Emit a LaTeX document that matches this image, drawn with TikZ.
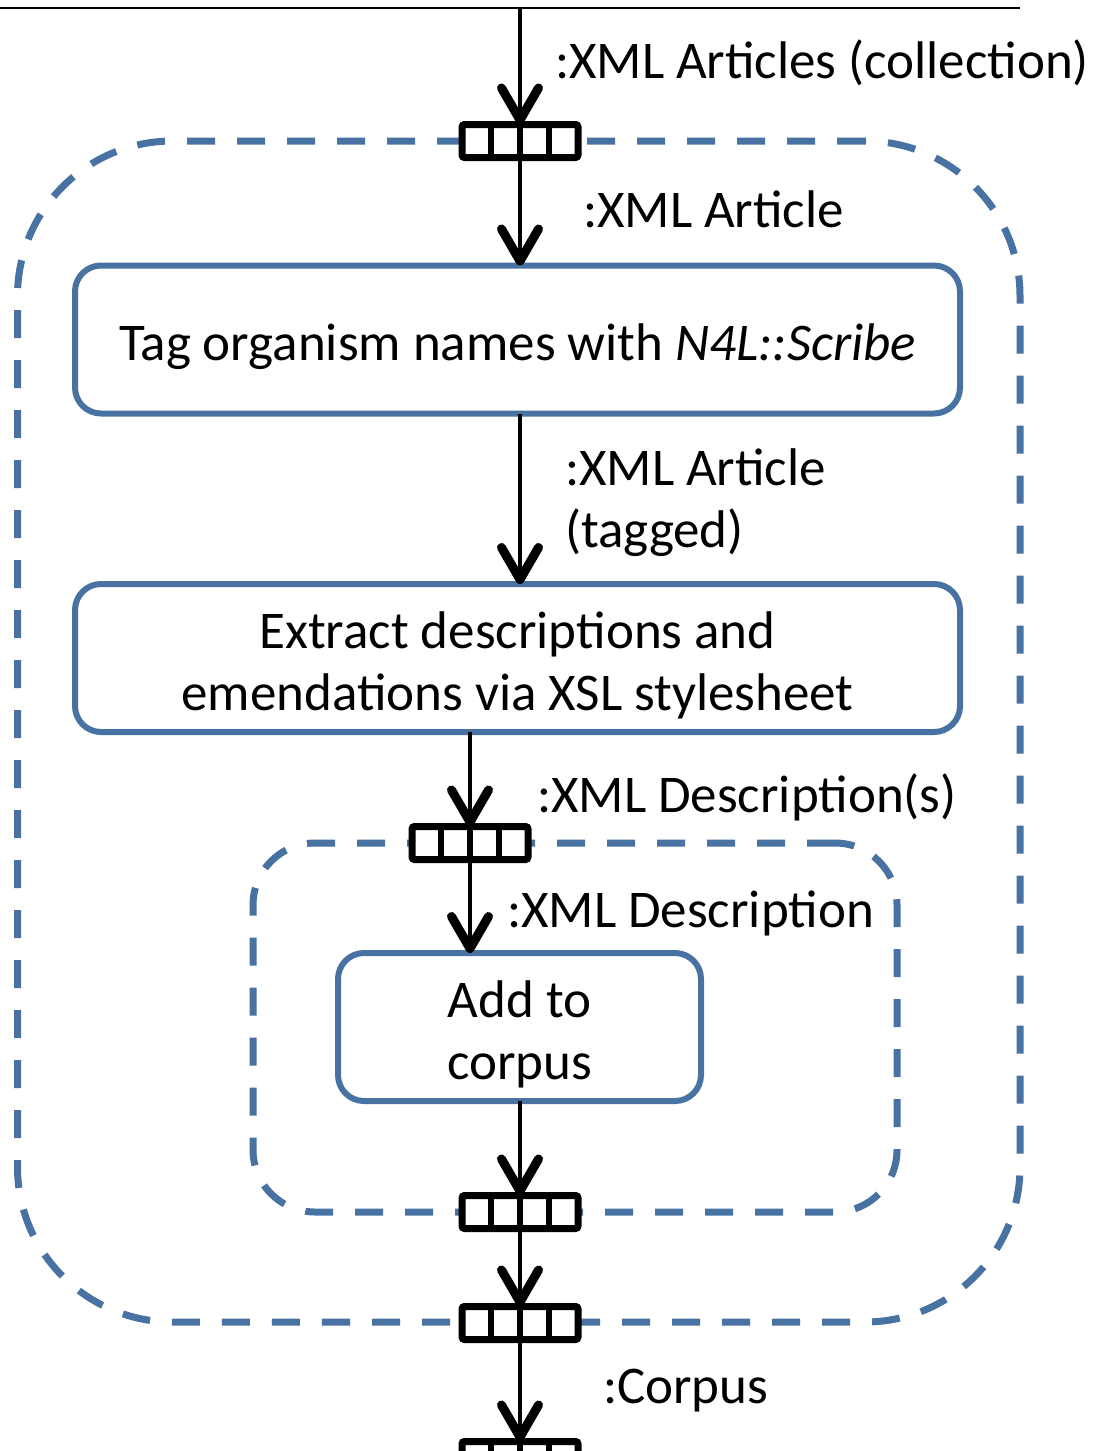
\documentclass[tikz,border=0pt]{standalone}
\usepackage{fontspec}
\setmainfont{Carlito}
\usetikzlibrary{arrows.meta,calc}
\definecolor{flowblue}{RGB}{71,114,161}
\begin{document}
\begin{tikzpicture}[x=1pt,y=-1pt,
  txt/.style={font=\fontsize{53}{62}\selectfont, inner sep=0pt, outer sep=0pt},
  flowarrow/.style={line width=3.3pt, -{Straight Barb[length=32pt,width=37pt,line width'=9pt,round]}},
  actbox/.style={draw=flowblue, line width=6pt, rounded corners=26pt, fill=white,
    align=center, txt, text depth=0pt, minimum height=148pt},
  region/.style={draw=flowblue, line width=7pt, dash pattern=on 28pt off 22pt,
    inner sep=0pt, outer sep=0pt},
  portbox/.style={draw=black, line width=7pt, fill=white, rounded corners=2.5pt,
    minimum width=116pt, minimum height=33pt, inner sep=0pt, outer sep=0pt,
    path picture={
      \foreach \k in {1,2,3}{
        \draw[line width=6pt]
          ($(path picture bounding box.south west)!\k/4!(path picture bounding box.south east)$)
          -- ++(0,60pt);
      }}}
]
\useasboundingbox (0,0) rectangle (1094,1451);

% expansion regions (dashed)
\node[region, rounded corners=155pt, minimum width=1002.5pt, minimum height=1181pt]
  (outer) at (518.75,731.5) {};
\node[region, rounded corners=62pt, minimum width=644pt, minimum height=369pt]
  (inner) at (575,1027.5) {};

% top boundary line
\coordinate (lineL) at (0,8);
\coordinate (lineR) at (1020,8);
\draw[line width=1.6pt] (lineL) -- (lineR);
\coordinate (src) at (520,8);

% input / output ports
\node[portbox] (p1) at (520,141) {};
\node[portbox] (p2) at (470,843) {};
\node[portbox] (p3) at (520,1212) {};
\node[portbox] (p4) at (520,1323) {};
\node[portbox] (p5) at (520,1458) {};

% actions
\node[actbox, minimum width=885pt, text height=41pt] (tag) at (517.5,339.5)
  {Tag organism names with \textit{N4L::Scribe}};
\node[actbox, minimum width=885pt] (extract) at (517.5,658)
  {\rule{0pt}{42pt}Extract descriptions and\\emendations via XSL stylesheet};
\node[actbox, minimum width=363pt] (add) at (519.5,1027)
  {\rule{0pt}{42pt}Add to\\corpus};

% object flows
\draw[flowarrow] (src) -- (p1.north);
\draw[flowarrow] (p1.south) -- (p1.south |- tag.north);
\draw[flowarrow] (p1.south |- tag.south) -- (p1.south |- extract.north);
\draw[flowarrow] (p2.north |- extract.south) -- (p2.north);
\draw[flowarrow] (p2.south) -- (p2.south |- add.north);
\draw[flowarrow] (p3.north |- add.south) -- (p3.north);
\draw[flowarrow] (p3.south) -- (p4.north);
\draw[flowarrow] (p4.south) -- (p5.north);

% object labels
\node[txt, anchor=base west] (l1) at (555,78) {:XML Articles (collection)};
\node[txt, anchor=base west] (l2) at (583,227) {:XML Article};
\node[txt, anchor=west, align=left] (l3) at (565,503) {:XML Article\\(tagged)};
\node[txt, anchor=base west] (l4) at (537,812) {:XML Description(s)};
\node[txt, anchor=base west] (l5) at (507,927) {:XML Description};
\node[txt, anchor=base west] (l6) at (603,1403) {:Corpus};
\end{tikzpicture}
\end{document}
